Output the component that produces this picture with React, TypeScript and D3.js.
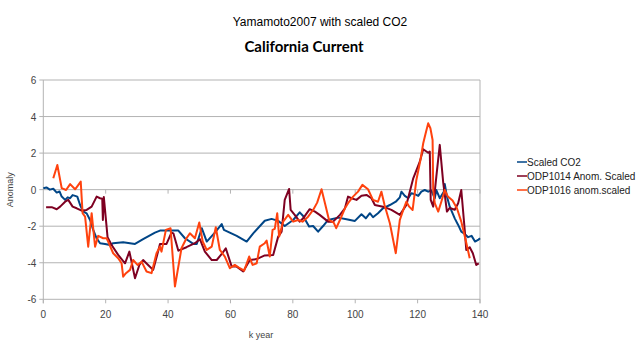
import { useEffect, useRef } from 'react';
import * as d3 from 'd3';

// Scaled CO2
const co2X = [0, 1, 2.1, 3.2, 4.3, 5.2, 5.9, 7, 7.8, 8.6, 9.4, 10.2, 10.9, 11.8, 12.8, 13.9, 15, 16, 17.1, 18.2, 19.8, 21.4, 22.4, 25.6, 29.4, 32, 35.8, 37.4, 43.3, 45.4, 48.1, 49.2, 50.8, 52.4, 55, 57.2, 57.9, 62, 65.2, 67.3, 71, 73.2, 75.3, 77.4, 80.1, 82.2, 83.3, 85.2, 86.5, 88.1, 89.7, 91.3, 94.5, 97.2, 99.9, 102, 103.4, 104.7, 105.7, 107.3, 108.9, 111.1, 113, 114.3, 114.8, 115.9, 117, 118, 119.1, 120.2, 121.2, 122.3, 123.4, 124.4, 125.5, 126, 127.1, 128.4, 128.7, 129.4, 130.3, 131.9, 133, 134, 135.1, 136.2, 137.3, 138.4, 139.4, 140];
const co2Y = [0.08, 0.12, 0, 0.05, -0.16, -0.1, -0.38, -0.56, -0.42, -0.47, -0.3, -0.34, -0.38, -0.84, -1.2, -1.3, -1.66, -2.2, -2.66, -2.93, -2.97, -3.03, -2.93, -2.88, -2.97, -2.71, -2.35, -2.24, -2.24, -2.66, -2.97, -2.97, -2.11, -2.84, -2.35, -1.88, -2.2, -2.53, -2.84, -2.39, -1.7, -1.6, -1.71, -1.99, -1.66, -1.24, -1.44, -2.02, -1.99, -2.3, -1.99, -1.66, -1.53, -1.62, -1.71, -1.35, -1.57, -1.29, -1.51, -1.29, -1.02, -0.84, -0.66, -0.42, -0.11, -0.34, -0.47, -0.2, -0.25, -0.34, -0.11, -0.02, -0.11, -0.05, -0.47, -0.02, -0.47, -0.11, 0.31, -0.38, -0.93, -1.57, -1.93, -2.3, -2.42, -2.6, -2.53, -2.84, -2.75, -2.66];

// ODP1014 Anom. Scaled
const odp1014X = [0.9, 2.7, 4.3, 5.4, 7, 8, 9.4, 10.7, 12.3, 13.9, 15.5, 17.1, 18.2, 18.9, 19.1, 19.4, 20.6, 21.9, 24, 26.2, 27.6, 29.4, 30.8, 32, 33.6, 35.2, 36.8, 37.4, 39.5, 41.1, 41.7, 43.3, 45.9, 48.6, 50.2, 51.8, 54, 55.6, 57.2, 58.5, 60.4, 62, 64.1, 66.2, 68.4, 71, 73.7, 75.3, 76.4, 77.4, 78.8, 79.3, 80.6, 82.2, 83.3, 85.4, 87.1, 88.6, 91.3, 92.9, 95.1, 96.7, 97.7, 98.8, 100.4, 102, 103.6, 105.2, 106.3, 108.9, 111.6, 114.3, 116.4, 118.6, 120.7, 121.8, 123.4, 123.9, 124.2, 125, 126, 127.1, 128.2, 129.4, 130.3, 131.9, 133, 134, 135.1, 135.6, 136.7, 137.7, 138.8, 139.6];
const odp1014Y = [-0.96, -0.96, -1.07, -0.93, -0.66, -0.56, -0.93, -1.02, -1.15, -1.11, -0.93, -0.38, -0.47, -0.5, -1.66, -0.4, -2.6, -3.03, -3.57, -4.03, -3.39, -4.85, -4.12, -3.85, -4.12, -4.39, -3.39, -2.97, -2.97, -2.35, -2.39, -3.34, -3.15, -2.93, -2.71, -3.39, -3.85, -3.85, -3.52, -3.21, -4.21, -4.21, -4.48, -3.85, -3.8, -3.6, -3.57, -2.57, -2.3, -0.56, 0.04, -1.11, -1.38, -1.75, -1.57, -1.07, -1.2, -1.38, -1.75, -1.75, -1.38, -1.02, -0.38, -0.47, -0.56, -0.33, -0.29, -0.47, -0.84, -0.93, -1.11, -1.38, -0.84, 0.62, 1.53, 2.21, 2.02, 2.08, -0.56, -0.93, 0.71, 2.45, 0.4, -1.2, -1.0, -1.1, -0.74, -0.02, -2.2, -3.3, -3.15, -3.48, -4.12, -4.03];

// ODP1016 anom.scaled
const odp1016X = [3.2, 4.5, 5.9, 7.3, 8.6, 10.2, 12, 12.6, 13.4, 14.4, 15.5, 16.6, 17.6, 19.2, 20.3, 20.8, 22.4, 24, 25.1, 25.6, 26.5, 27.8, 28.8, 30.2, 31.5, 33.1, 34.7, 36.3, 37.4, 37.9, 39.3, 40.8, 42.2, 44.3, 45.9, 47, 48.6, 50, 51.1, 52.4, 54, 55.3, 56.6, 58.2, 59.8, 61.4, 63, 64.4, 66, 67.1, 68.4, 69.4, 71, 71.6, 72.6, 73.5, 74.2, 75, 75.6, 76.9, 78.5, 80.1, 81.7, 83.1, 84.9, 86.5, 87.8, 89.2, 90.3, 91.6, 93.1, 93.9, 95.1, 96.7, 97.7, 99.3, 100.9, 102.3, 104.1, 105.2, 105.7, 107.3, 108.4, 109.4, 111.1, 113, 114.3, 115.4, 116.4, 117.3, 118.4, 119.6, 120.9, 121.8, 122.7, 123.4, 124.1, 124.8, 125, 125.5, 126.6, 127.6, 128.7, 129.7, 131.2, 132.6, 134, 135.4, 136.7];
const odp1016Y = [0.62, 1.35, 0.08, -0.02, 0.3, 0.02, 0.44, -1.29, -1.48, -3.12, -1.29, -3.12, -2.53, -2.66, -2.66, -2.84, -3.48, -3.75, -4.03, -4.76, -4.57, -4.39, -3.85, -4.12, -3.94, -4.48, -4.57, -3.48, -3.12, -3.39, -2.2, -2.11, -5.3, -3.21, -2.66, -2.39, -2.66, -1.8, -2.84, -3.3, -3.12, -2.06, -3.3, -3.66, -4.3, -4.12, -4.3, -4.43, -3.66, -4.12, -4.03, -3.12, -2.93, -2.79, -3.66, -2.2, -2.15, -1.29, -2.57, -1.75, -1.38, -1.75, -1.66, -1.75, -1.48, -1.11, -0.71, 0.02, -0.74, -1.66, -1.8, -2.11, -1.66, -1.02, -0.74, -0.38, -0.11, 0.26, 0.02, -0.38, -0.56, -0.66, -0.11, -0.84, -1.84, -3.48, -1.66, -1.11, -0.66, -0.93, -1.11, 0.53, 1.62, 2.54, 3.17, 3.63, 3.36, 2.72, -0.02, -0.74, -1.2, -0.66, -0.02, -0.38, -0.6, -1.02, -1.75, -2.75, -3.75];

const seriesNames = ['Scaled CO2', 'ODP1014 Anom. Scaled', 'ODP1016 anom.scaled'];
const seriesColors = ['#004586', '#7e0021', '#ff420e'];
const xTicks = [0, 20, 40, 60, 80, 100, 120, 140];
const yTicks = [-6, -4, -2, 0, 2, 4, 6];

export default function App() {
  const svgRef = useRef<SVGSVGElement>(null);

  useEffect(() => {
    if (!svgRef.current) return;
    const W = 640, H = 353;
    const L = 43.3, R = 480, T = 80, B = 299.3;
    const svg = d3.select(svgRef.current);
    svg.selectAll('*').remove();
    svg.attr('width', W).attr('height', H).attr('viewBox', `0 0 ${W} ${H}`);

    const x = d3.scaleLinear().domain([0, 140]).range([L, R]);
    const y = d3.scaleLinear().domain([-6, 6]).range([B, T]);
    const font = '"Liberation Sans", Arial, sans-serif';

    svg.append('rect').attr('width', W).attr('height', H).attr('fill', '#fff');

    // Grid
    yTicks.forEach(t => {
      svg.append('line')
        .attr('x1', L - 4).attr('x2', R)
        .attr('y1', y(t)).attr('y2', y(t))
        .attr('stroke', '#b3b3b3').attr('stroke-width', 1);
      svg.append('text')
        .attr('x', L - 7).attr('y', y(t) + 4)
        .attr('text-anchor', 'end').attr('font-size', 10).attr('font-family', font)
        .attr('fill', '#444').text(t);
    });
    svg.append('line').attr('x1', L).attr('x2', L).attr('y1', T).attr('y2', B + 4).attr('stroke', '#b3b3b3');
    svg.append('line').attr('x1', R).attr('x2', R).attr('y1', T).attr('y2', B + 4).attr('stroke', '#b3b3b3');

    xTicks.forEach(t => {
      svg.append('line')
        .attr('x1', x(t)).attr('x2', x(t)).attr('y1', B).attr('y2', B + 4)
        .attr('stroke', '#b3b3b3');
      if (t > 0) {
        svg.append('line')
          .attr('x1', x(t)).attr('x2', x(t)).attr('y1', y(0)).attr('y2', y(0) + 4)
          .attr('stroke', '#b3b3b3');
      }
      svg.append('text')
        .attr('x', x(t)).attr('y', 318)
        .attr('text-anchor', 'middle').attr('font-size', 10).attr('font-family', font)
        .attr('fill', '#444').text(t);
    });

    // Series
    const series = [
      { xs: co2X, ys: co2Y },
      { xs: odp1014X, ys: odp1014Y },
      { xs: odp1016X, ys: odp1016Y },
    ];
    const line = d3.line<[number, number]>().x(d => x(d[0])).y(d => y(d[1]));
    series.forEach((s, i) => {
      const pts = s.xs.map((v, j) => [v, s.ys[j]] as [number, number]);
      svg.append('path').datum(pts)
        .attr('fill', 'none').attr('stroke', seriesColors[i]).attr('stroke-width', 2)
        .attr('stroke-linejoin', 'round').attr('d', line);
    });

    // Titles
    svg.append('text').attr('x', 320).attr('y', 26)
      .attr('text-anchor', 'middle').attr('font-size', 12).attr('font-family', font)
      .attr('fill', '#000').text('Yamamoto2007 with scaled CO2');
    svg.append('text').attr('x', 304).attr('y', 52)
      .attr('text-anchor', 'middle').attr('font-size', 15).attr('font-weight', 'bold')
      .attr('font-family', 'Lato, "Liberation Sans", sans-serif')
      .attr('fill', '#000').text('California Current');

    // Axis titles
    svg.append('text').attr('transform', `translate(13,${y(0)}) rotate(-90)`)
      .attr('text-anchor', 'middle').attr('font-size', 9).attr('font-family', font)
      .attr('fill', '#444').text('Anomaly');
    svg.append('text').attr('x', 261).attr('y', 338)
      .attr('text-anchor', 'middle').attr('font-size', 9).attr('font-family', font)
      .attr('fill', '#444').text('k year');

    // Legend
    seriesNames.forEach((name, i) => {
      const ly = 162 + i * 14;
      svg.append('line').attr('x1', 517).attr('x2', 527).attr('y1', ly).attr('y2', ly)
        .attr('stroke', seriesColors[i]).attr('stroke-width', 1.5);
      svg.append('text').attr('x', 527).attr('y', ly + 3.5)
        .attr('font-size', 10).attr('font-family', font).attr('fill', '#222').text(name);
    });
  }, []);

  return (
    <div style={{ position: 'fixed', left: 0, top: 0 }}>
      <svg ref={svgRef} style={{ display: 'block' }} />
    </div>
  );
}
